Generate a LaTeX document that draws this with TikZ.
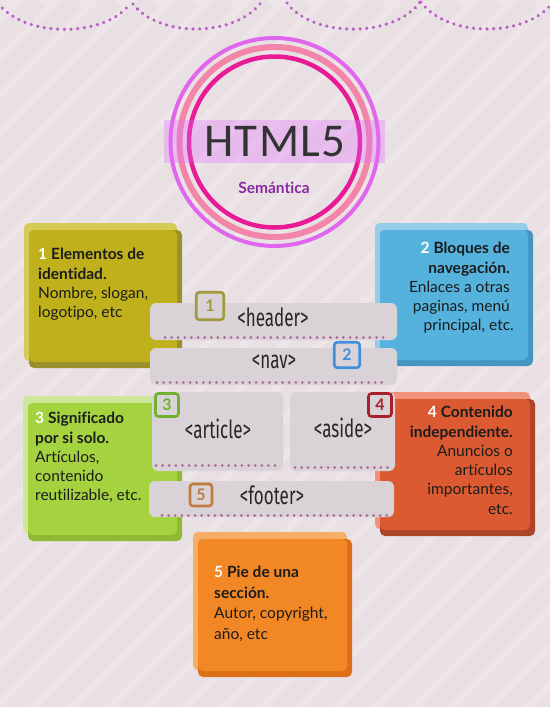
\documentclass[tikz,border=0pt]{standalone}
\usepackage{fontspec}
\setmainfont[Ligatures=NoCommon]{Lato}
\newfontfamily\tagfont[FakeStretch=0.68]{Fira Sans}
\newfontfamily\logofont[LetterSpace=3]{Carlito}
\usetikzlibrary{positioning}
\definecolor{bgone}{HTML}{EEE5E9}
\definecolor{bgtwo}{HTML}{E9E0E4}
\definecolor{tagfill}{HTML}{D9D3D7}
\definecolor{tagdots}{HTML}{AE6A94}
\definecolor{topdots}{HTML}{B860C4}
\definecolor{ringa}{HTML}{E066EE}
\definecolor{ringb}{HTML}{F285A8}
\definecolor{ringc}{HTML}{E81A96}
\definecolor{bandfill}{HTML}{E16EFF}
\definecolor{sublabel}{HTML}{8A2AA0}
\definecolor{inka}{HTML}{1C1C1C}
\definecolor{olive}{HTML}{A09A3C}
\definecolor{bluem}{HTML}{3F8FDB}
\definecolor{greenm}{HTML}{6FB030}
\definecolor{redm}{HTML}{A8202A}
\definecolor{brownm}{HTML}{C07A3E}
\definecolor{oneL}{HTML}{D6CB56}
\definecolor{oneM}{HTML}{BFB01C}
\definecolor{oneD}{HTML}{98902A}
\definecolor{twoL}{HTML}{93CDE8}
\definecolor{twoM}{HTML}{55B2DD}
\definecolor{twoD}{HTML}{4496C2}
\definecolor{threeL}{HTML}{CFE79B}
\definecolor{threeM}{HTML}{A5D340}
\definecolor{threeD}{HTML}{8FB834}
\definecolor{fourL}{HTML}{F0937A}
\definecolor{fourM}{HTML}{DC5A32}
\definecolor{fourD}{HTML}{AE4428}
\definecolor{fiveL}{HTML}{F6AE66}
\definecolor{fiveM}{HTML}{F28725}
\definecolor{fiveD}{HTML}{DC6F18}
\tikzset{
	toparc/.style={topdots,line width=3.6pt,line cap=round,dash pattern=on 0.01pt off 6.7pt},
	tagline/.style={tagdots,line width=3pt,line cap=round,dash pattern=on 0.01pt off 6.6pt},
	tagbox/.style={fill=tagfill,rounded corners=6pt},
	taglabel/.style={font=\tagfont\fontsize{25}{25}\selectfont,text=black!85},
	badge/.style={draw=#1,text=#1,fill=tagfill,line width=2.6pt,rounded corners=3pt,inner sep=0pt,font=\bfseries\fontsize{16}{16}\selectfont},
	cardtext/.style={inner sep=0pt,text=inka,font=\fontsize{15.5}{19.3}\selectfont},
}
\newcommand{\cardpanel}[5]{
	\fill[#5L,rounded corners=5pt] (#1,#2) rectangle (#3-5,#4-7);
	\fill[#5D,rounded corners=5pt] (#1+5,#2+7) rectangle (#3,#4);
	\fill[#5M,rounded corners=5pt] (#1+5,#2+7) rectangle (#3-5,#4-6);
}
\newcommand{\cardnum}[1]{\textcolor{white}{\textbf{#1}}}
\newcommand{\rgap}{\rule{4pt}{0pt}}
\begin{document}
\begin{tikzpicture}[x=1pt,y=-1pt]
	\useasboundingbox (0,0) rectangle (550,707);
	\begin{scope}
		\clip (0,0) rectangle (550,707);
		\fill[bgone] (0,0) rectangle (550,707);
		\foreach \s in {-720,-682,...,560}
			\draw[bgtwo,line width=19pt] (\s,720) -- (\s+720,0);
		% scallops
		\draw[toparc] (-2,3) .. controls (24,38) and (104,38) .. (130,4);
		\draw[toparc] (133,4) .. controls (159,38) and (237,38) .. (263,0);
		\draw[toparc] (287,3) .. controls (313,38) and (394,38) .. (420,2);
		\draw[toparc] (421,2) .. controls (447,38) and (527,38) .. (553,2);
	\end{scope}
	
	\coordinate (logo) at (274.5,142);
	\draw[ringa,line width=4pt] (logo) circle[radius=104];
	\draw[ringb,line width=6pt] (logo) circle[radius=95];
	\draw[ringc,line width=4.5pt] (logo) circle[radius=85.5];
	\fill[bandfill,opacity=0.32] (164,120) rectangle (385,163);
	\node[font=\logofont\fontsize{47}{47}\selectfont,text=black!80] (htmltitle) at (275,142) {HTML5};
	\node[font=\bfseries\fontsize{15.5}{15.5}\selectfont,text=sublabel] (subtitle) at (274,188) {Semántica};
	
	\cardpanel{24}{223}{182}{368}{one}
	\cardpanel{375}{223}{533}{366}{two}
	\cardpanel{23}{396}{182}{541}{three}
	\cardpanel{375}{392}{535}{536}{four}
	\cardpanel{193}{532}{352}{677}{five}
	
	\node[cardtext,align=left,anchor=north west] (textone) at (38,248) {\cardnum{1} \textbf{Elementos de}\\\textbf{identidad.}\\Nombre, slogan,\\logotipo, etc};
	\node[cardtext,align=right,anchor=north east] (texttwo) at (514,242) {\cardnum{2} \textbf{Bloques de}\rgap\\\textbf{navegación.}\rgap\\Enlaces a otras\rgap\\paginas, menú\rgap\\principal, etc.};
	\node[cardtext,align=left,anchor=north west] (textthree) at (35,412) {\cardnum{3} \textbf{Significado}\\\textbf{por si solo.}\\Artículos,\\contenido\\reutilizable, etc.};
	\node[cardtext,align=right,anchor=north east] (textfour) at (513,406) {\cardnum{4} \textbf{Contenido}\\\textbf{independiente.}\\Anuncios o\\artículos\\importantes,\\etc.};
	\node[cardtext,font=\fontsize{15.5}{20.6}\selectfont,align=left,anchor=north west] (textfive) at (214,566) {\cardnum{5} \textbf{Pie de una}\\\textbf{sección.}\\Autor, copyright,\\año, etc};
	
	\fill[tagbox] (150,303) rectangle (397,340);
	\fill[tagbox] (150,348) rectangle (397,385);
	\fill[tagbox] (152,392) rectangle (283,471);
	\fill[tagbox] (290,392) rectangle (395,471);
	\fill[tagbox] (149,481) rectangle (394,517);
	\draw[tagline] (165,337) -- (389,337);
	\draw[tagline] (157,382) -- (388,382);
	\draw[tagline] (156,465) -- (280,465);
	\draw[tagline] (295,467) -- (389,467);
	\draw[tagline] (162,515) -- (388,515);
	
	\node[taglabel] (headertag) at (273,317) {<header>};
	\node[taglabel] (navtag) at (274,362) {<nav>};
	\node[taglabel] (articletag) at (218,429) {<article>};
	\node[taglabel] (asidetag) at (343,428) {<aside>};
	\node[taglabel] (footertag) at (272,495) {<footer>};
	
	\node[badge=olive,minimum size=27.5pt] (numone) at (210,306) {1};
	\node[badge=bluem,minimum size=25.5pt] (numtwo) at (347,355) {2};
	\node[badge=greenm,minimum size=23pt] (numthree) at (167,405) {3};
	\node[badge=redm,minimum size=23pt] (numfour) at (380,405) {4};
	\node[badge=brownm,minimum size=22pt] (numfive) at (201,495) {5};
\end{tikzpicture}
\end{document}
